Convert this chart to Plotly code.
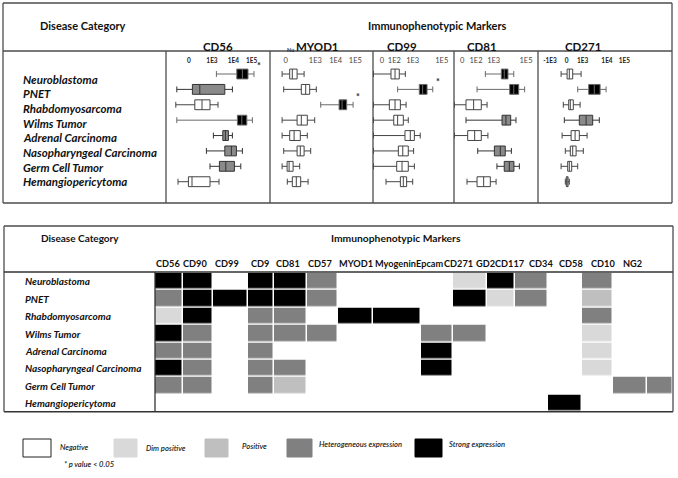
import plotly.graph_objects as go

# ======================= DATA =======================
diseases = ["Neuroblastoma", "PNET", "Rhabdomyosarcoma", "Wilms Tumor",
            "Adrenal Carcinoma", "Nasopharyngeal Carcinoma", "Germ Cell Tumor",
            "Hemangiopericytoma"]

levels = ["Negative", "Dim positive", "Positive", "Heterogeneous expression",
          "Strong expression"]

# ---- top panel: flow cytometry box statistics (log10 display units) ----
box_markers = ["CD56", "MYOD1", "CD99", "CD81", "CD271"]

cd56_low = [3.22, 1.24, 1.19, 1.24, 3.07, 2.72, 2.90, 1.30]
cd56_q1 = [4.24, 2.02, 2.14, 4.27, 3.54, 3.64, 3.37, 1.82]
cd56_med = [4.52, 2.39, 2.50, 4.49, 3.67, 3.97, 3.69, 2.00]
cd56_q3 = [4.80, 3.64, 2.90, 4.74, 3.82, 4.22, 4.12, 2.90]
cd56_high = [5.10, 4.02, 3.30, 5.02, 4.02, 4.52, 4.44, 3.35]
cd56_level = [4, 3, 0, 4, 3, 3, 3, 0]

myod1_low = [1.34, 1.42, 3.27, 1.34, 1.34, 1.42, 1.34, 1.60]
myod1_q1 = [1.72, 2.30, 4.19, 2.09, 1.72, 2.09, 1.59, 1.85]
myod1_med = [1.85, 2.52, 4.34, 2.30, 1.94, 2.25, 1.69, 2.05]
myod1_q3 = [2.09, 2.72, 4.57, 2.60, 2.25, 2.44, 1.89, 2.27]
myod1_high = [2.44, 3.05, 4.89, 2.97, 2.60, 2.77, 2.22, 2.64]
myod1_level = [0, 0, 4, 0, 0, 0, 0, 0]

cd99_low = [0.87, 2.18, 0.87, 0.87, 0.87, 0.87, 0.87, 1.55]
cd99_q1 = [1.82, 3.36, 1.73, 1.97, 2.58, 2.22, 2.13, 2.33]
cd99_med = [2.04, 3.54, 2.04, 2.18, 2.87, 2.46, 2.42, 2.49]
cd99_q3 = [2.27, 3.78, 2.33, 2.49, 3.09, 2.76, 2.76, 2.67]
cd99_high = [2.60, 4.09, 2.64, 2.76, 3.41, 3.05, 3.09, 3.00]
cd99_level = [0, 4, 0, 0, 0, 0, 0, 0]

cd81_low = [2.51, 2.02, 0.69, 1.37, 0.69, 2.06, 3.19, 1.43]
cd81_q1 = [3.45, 3.94, 1.37, 3.49, 1.47, 3.04, 3.62, 2.02]
cd81_med = [3.62, 4.18, 1.82, 3.72, 1.88, 3.39, 3.92, 2.41]
cd81_q3 = [3.84, 4.47, 2.27, 4.00, 2.27, 3.68, 4.19, 2.80]
cd81_high = [4.18, 4.82, 2.61, 4.31, 2.66, 4.04, 4.51, 3.14]
cd81_level = [4, 4, 0, 3, 0, 3, 3, 0]

cd271_low = [1.92, 2.75, 2.03, 2.08, 1.97, 2.13, 1.92, 2.13]
cd271_q1 = [2.22, 3.30, 2.30, 2.83, 2.42, 2.38, 2.25, 2.18]
cd271_med = [2.33, 3.58, 2.38, 3.17, 2.62, 2.50, 2.33, 2.22]
cd271_q3 = [2.50, 3.87, 2.53, 3.50, 2.83, 2.67, 2.45, 2.27]
cd271_high = [2.92, 4.17, 2.87, 3.83, 3.22, 3.03, 2.75, 2.33]
cd271_level = [0, 4, 0, 3, 0, 0, 0, 0]

# significant differences (* p value < 0.05)
significant = [("CD56", "Neuroblastoma"), ("MYOD1", "Rhabdomyosarcoma"),
               ("CD99", "PNET")]

# tick labels of each top axis
cd56_ticktext = ["0", "1E3", "1E4", "1E5"]
myod1_ticktext = ["0", "1E3", "1E4", "1E5"]
cd99_ticktext = ["0", "1E2", "1E3", "1E5"]
cd81_ticktext = ["0", "1E2", "1E3", "1E5"]
cd271_ticktext = ["-1E3", "0", "1E3", "1E4", "1E5"]

# ---- bottom panel: expression summary ----
heat_markers = ["CD56", "CD90", "CD99", "CD9", "CD81", "CD57", "MYOD1",
                "Myogenin", "Epcam", "CD271", "GD2", "CD117", "CD34", "CD58",
                "CD10", "NG2"]
heat_codes = [
    [4, 4, 0, 4, 4, 3, 0, 0, 0, 1, 4, 3, 0, 3, 0, 0],  # Neuroblastoma
    [3, 4, 4, 4, 4, 3, 0, 0, 0, 4, 1, 3, 0, 2, 0, 0],  # PNET
    [1, 4, 0, 3, 3, 0, 4, 4, 0, 0, 0, 0, 0, 3, 0, 0],  # Rhabdomyosarcoma
    [4, 3, 0, 3, 3, 3, 0, 0, 3, 3, 0, 0, 0, 1, 0, 0],  # Wilms Tumor
    [3, 3, 0, 3, 0, 0, 0, 0, 4, 0, 0, 0, 0, 1, 0, 0],  # Adrenal Carcinoma
    [4, 3, 0, 3, 3, 0, 0, 0, 4, 0, 0, 0, 0, 1, 0, 0],  # Nasopharyngeal Carcinoma
    [3, 3, 0, 3, 2, 0, 0, 0, 0, 0, 0, 0, 0, 0, 3, 3],  # Germ Cell Tumor
    [0, 0, 0, 0, 0, 0, 0, 0, 0, 0, 0, 0, 4, 0, 0, 0],  # Hemangiopericytoma
]

# ======================= LAYOUT / STYLE =======================
W, H = 678, 478
FONT = "Lato"


def px(x):
    return x / W


def py(y):
    return 1 - y / H


LEVEL_FILL = ["#ffffff", "#d9d9d9", "#bfbfbf", "#808080", "#000000"]
BOX_FILL = {0: "#ffffff", 3: "#8a8a8a", 4: "#000000"}
BOX_LINE = {0: "#444444", 3: "#333333", 4: "#6a6a6a"}
BORDER = "#4d4d4d"

stats = {
    "CD56": (cd56_low, cd56_q1, cd56_med, cd56_q3, cd56_high, cd56_level, cd56_ticktext),
    "MYOD1": (myod1_low, myod1_q1, myod1_med, myod1_q3, myod1_high, myod1_level, myod1_ticktext),
    "CD99": (cd99_low, cd99_q1, cd99_med, cd99_q3, cd99_high, cd99_level, cd99_ticktext),
    "CD81": (cd81_low, cd81_q1, cd81_med, cd81_q3, cd81_high, cd81_level, cd81_ticktext),
    "CD271": (cd271_low, cd271_q1, cd271_med, cd271_q3, cd271_high, cd271_level, cd271_ticktext),
}

top_div = [166, 270, 373, 454, 538, 672]
top_ranges = [[0.70, 5.90], [0.735, 5.885], [0.842, 5.245], [0.665, 5.606], [0.765, 7.465]]
top_tickvals = [[1.85, 3, 4.07, 4.98], [1.52, 3, 4.02, 5.0], [1.33, 2.0, 3, 4.58],
                [1.14, 1.96, 3, 4.9], [1.365, 2.2, 3, 4.215, 5.08]]
tick_bold = [True, False, False, False, True]
title_cx = [218, 317, 401.5, 481.5, 582.5]

fig = go.Figure()

# ---- top panel boxes ----
axis_names = []
for k, m in enumerate(box_markers):
    low, q1, med, q3, high, lev, _ = stats[m]
    xa = "x" if k == 0 else f"x{k + 1}"
    axis_names.append(xa)
    for i, d in enumerate(diseases):
        fig.add_trace(go.Box(
            y=[d], q1=[q1[i]], median=[med[i]], q3=[q3[i]],
            lowerfence=[low[i]], upperfence=[high[i]],
            orientation="h", xaxis=xa, yaxis="y",
            fillcolor=BOX_FILL[lev[i]],
            line=dict(color=BOX_LINE[lev[i]], width=1),
            width=0.64, whiskerwidth=0.6, boxpoints=False,
            showlegend=False, hoverinfo="skip"))

# ---- bottom heatmap ----
col_w = [28, 30, 35, 26, 33, 31, 35, 48, 32, 34, 28, 33, 34, 31, 34, 26]
edges = [0]
for w in col_w:
    edges.append(edges[-1] + w)
n = len(levels)
cscale = []
for j, c in enumerate(LEVEL_FILL):
    cscale.append([j / n, c])
    cscale.append([(j + 1) / n, c])
fig.add_trace(go.Heatmap(
    z=heat_codes, x=edges, y=diseases, xaxis="x6", yaxis="y2",
    zmin=-0.5, zmax=n - 0.5, colorscale=cscale, showscale=False,
    xgap=1.5, ygap=1.5, hoverinfo="skip"))

layout = dict(
    width=W, height=H, margin=dict(l=0, r=0, t=0, b=0),
    paper_bgcolor="white", plot_bgcolor="rgba(0,0,0,0)",
    font=dict(family=FONT, color="#111111"),
    showlegend=False,
)

# top y axis (index units: row 0 at top)
layout["yaxis"] = dict(domain=[py(203), py(51)], range=[8.384, -1.495],
                       type="category", categoryarray=diseases,
                       showticklabels=False, showgrid=False, zeroline=False,
                       showline=False, ticks="", anchor="x")
for k in range(5):
    key = "xaxis" if k == 0 else f"xaxis{k + 1}"
    tt = stats[box_markers[k]][6]
    layout[key] = dict(
        domain=[px(top_div[k]), px(top_div[k + 1])], range=top_ranges[k],
        anchor="free", position=py(66), side="top",
        tickvals=top_tickvals[k], ticktext=tt, ticks="",
        showgrid=False, zeroline=False, showline=False,
        tickfont=dict(family=FONT, size=6.5 if tick_bold[k] else 7.5,
                      color="#222" if tick_bold[k] else "#444",
                      weight="bold" if tick_bold[k] else "normal"),
        ticklabelstandoff=2)

layout["xaxis6"] = dict(domain=[px(155), px(673)], range=[0, edges[-1]],
                        anchor="y2", showticklabels=False, showgrid=False,
                        zeroline=False, showline=False, ticks="")
layout["yaxis2"] = dict(domain=[py(411.7), py(272.7)], autorange="reversed",
                        anchor="x6", showticklabels=False, showgrid=False,
                        zeroline=False, showline=False, ticks="")

shapes = []


def line(x0, y0, x1, y1, w=1.3, c=BORDER):
    shapes.append(dict(type="line", xref="paper", yref="paper",
                       x0=px(x0), y0=py(y0), x1=px(x1), y1=py(y1),
                       line=dict(color=c, width=w)))


# top panel frame
line(3, 3, 672, 3)
line(3, 203, 672, 203)
line(3, 3, 3, 203)
line(672, 3, 672, 203)
line(3, 51, 672, 51)
for xd in top_div[:-1]:
    line(xd, 51, xd, 203)

# bottom panel frame
line(4, 226, 673, 226)
line(4, 411.7, 673, 411.7, w=1.6, c="#333")
line(4, 226, 4, 411.7)
line(673, 226, 673, 411.7)
line(4, 272, 673, 272, c="#333")
line(155, 272, 155, 411.7, c="#333")

annotations = []


def text(x, y, s, size, weight="bold", style="normal", anchor="center",
         family=FONT, color="#111"):
    annotations.append(dict(xref="paper", yref="paper", x=px(x), y=py(y),
                            text=s, showarrow=False, xanchor=anchor,
                            yanchor="middle",
                            font=dict(family=family, size=size, weight=weight,
                                      style=style, color=color)))


# top headers
text(82.7, 25, "Disease Category", 11)
text(437, 25, "Immunophenotypic Markers", 11)
for k, m in enumerate(box_markers):
    text(title_cx[k], 46.5, m, 11.5)
text(290, 50.5, "Nu", 5.5, color="#333")

# top row labels
for i, d in enumerate(diseases):
    text(20.7, 79 + 14.67 * i, d, 11.5, style="italic", anchor="left")

# asterisks
for m, d in significant:
    k = box_markers.index(m)
    high = stats[m][4][diseases.index(d)]
    xa = axis_names[k]
    annotations.append(dict(xref=xa, yref="y", x=high, y=d, text="*",
                            showarrow=False, xanchor="left", yanchor="middle",
                            xshift=1, yshift=8,
                            font=dict(family=FONT, size=9, color="#222",
                                      weight="bold")))

# bottom headers
text(80, 238, "Disease Category", 10)
text(395.5, 238, "Immunophenotypic Markers", 10.3)
label_cx = [167.5, 195, 227, 259.5, 288, 320, 355.5, 395, 430, 458.5, 485,
            510, 541, 571, 602.5, 632.5]
for j, m in enumerate(heat_markers):
    text(label_cx[j], 263, m, 9.2)

# bottom row labels
for d in diseases:
    annotations.append(dict(xref="paper", yref="y2", x=px(22.7), y=d, text=d,
                            showarrow=False, xanchor="left", yanchor="middle",
                            font=dict(family=FONT, size=10, weight="bold",
                                      style="italic", color="#111")))

# legend
sw_x = [(23, 51), (114, 137), (205, 228), (287, 312), (415, 442)]
lab_x = [58, 144, 240, 317, 447]
lab_y = [446.5, 447.5, 446, 444, 444]
for j, lv in enumerate(levels):
    x0, x1 = sw_x[j]
    shapes.append(dict(type="rect", xref="paper", yref="paper",
                       x0=px(x0), x1=px(x1), y0=py(457), y1=py(439),
                       fillcolor=LEVEL_FILL[j],
                       line=dict(color="#222" if j == 0 else LEVEL_FILL[j],
                                 width=1)))
    text(lab_x[j], lab_y[j], lv, 7.6, weight=600, style="italic",
         anchor="left", color="#222")
text(62, 463.5, "* p value < 0.05", 7.6, weight=600, style="italic",
     anchor="left", color="#222")

layout["shapes"] = shapes
layout["annotations"] = annotations
fig.update_layout(**layout)

fig.write_html("out.html", config={"displayModeBar": False},
               post_script="document.body.style.margin='0';"
                           "document.body.style.padding='0';")
